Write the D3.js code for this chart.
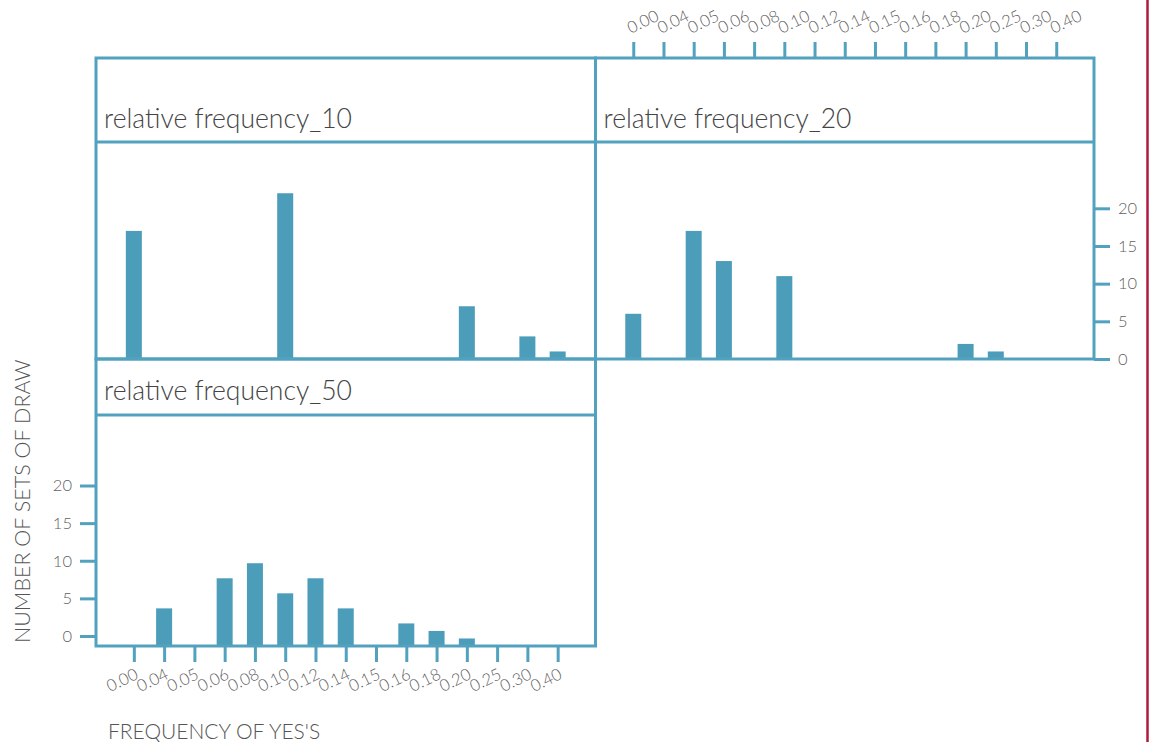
<!DOCTYPE html>
<html>
<head>
<meta charset="utf-8">
<script src="https://cdn.jsdelivr.net/npm/d3@7"></script>
<style>
  html, body { margin: 0; padding: 0; background: #ffffff; }
  svg { display: block; font-family: Lato, "Open Sans", sans-serif; }
</style>
</head>
<body>
<svg id="chart" width="1151" height="742"></svg>
<script>
// Shared category axis: observed frequency of "yes" answers
const categories = ["0.00","0.04","0.05","0.06","0.08","0.10","0.12","0.14","0.15","0.16","0.18","0.20","0.25","0.30","0.40"];
const yTicks = [0, 5, 10, 15, 20];

// Sample size 10
const freq10Cats = ["0.00","0.10","0.20","0.30","0.40"];
const freq10Counts = [17, 22, 7, 3, 1];

// Sample size 20
const freq20Cats = ["0.00","0.05","0.06","0.10","0.20","0.25"];
const freq20Counts = [6, 17, 13, 11, 2, 1];

// Sample size 50
const freq50Cats = ["0.04","0.06","0.08","0.10","0.12","0.14","0.16","0.18","0.20"];
const freq50Counts = [5, 9, 11, 7, 9, 5, 3, 2, 1];

const panelTitles = ["relative frequency_10", "relative frequency_20", "relative frequency_50"];
const xTitle = "FREQUENCY OF YES'S";
const yTitle = "NUMBER OF SETS OF DRAW";

const BLUE = "#4b9dba";
const BORDER = "#52a2bf";
const TEXT = "#444";
const TICKTEXT = "#5f5f5f";

const svg = d3.select("#chart");

// Facet grid geometry
const L = 96, M = 595.5, R = 1094;
const T = 58, H1 = 142, B1 = 359, H2 = 415, B2 = 646;

const x1 = d3.scalePoint().domain(categories).range([L, M]).padding(1.25);
const x2 = d3.scalePoint().domain(categories).range([M, R]).padding(1.25);
const y1 = d3.scaleLinear().domain([0, 28.8]).range([B1, H1]);
const y3 = d3.scaleLinear().domain([0, 30.7]).range([B2, H2]);
const barW = 16;

function drawBars(g, cats, counts, x, y) {
  const rows = cats.map((c, i) => ({ c, n: counts[i] }));
  g.selectAll("rect").data(rows).enter().append("rect")
    .attr("x", d => x(d.c) - barW / 2)
    .attr("y", d => y(d.n))
    .attr("width", barW)
    .attr("height", d => y(0) - y(d.n))
    .attr("fill", BLUE);
}

const bars = svg.append("g");
drawBars(bars.append("g"), freq10Cats, freq10Counts, x1, y1);
drawBars(bars.append("g"), freq20Cats, freq20Counts, x2, y1);
drawBars(bars.append("g"), freq50Cats, freq50Counts, x1, y3);

// Panel frames and header rows
const frames = svg.append("g").attr("fill", "none").attr("stroke", BORDER).attr("stroke-width", 3);
frames.append("rect").attr("x", L).attr("y", T).attr("width", M - L).attr("height", B1 - T);
frames.append("rect").attr("x", M).attr("y", T).attr("width", R - M).attr("height", B1 - T);
frames.append("rect").attr("x", L).attr("y", B1).attr("width", M - L).attr("height", B2 - B1);
frames.append("line").attr("x1", L).attr("x2", R).attr("y1", H1).attr("y2", H1);
frames.append("line").attr("x1", L).attr("x2", M).attr("y1", H2).attr("y2", H2);

// Panel titles
const titleStyle = sel => sel.attr("font-size", 26.5).attr("font-weight", 300).attr("fill", TEXT);
svg.append("text").attr("x", L + 8).attr("y", 128).text(panelTitles[0]).call(titleStyle);
svg.append("text").attr("x", M + 8).attr("y", 128).text(panelTitles[1]).call(titleStyle);
svg.append("text").attr("x", L + 8).attr("y", 400).text(panelTitles[2]).call(titleStyle);

function styleAxis(g) {
  g.select(".domain").remove();
  g.selectAll(".tick line").attr("stroke", BORDER).attr("stroke-width", 3);
  g.selectAll(".tick text").attr("fill", TICKTEXT).attr("font-size", 16.5).attr("font-weight", 300)
    .attr("font-family", "Lato, sans-serif");
}

// Top category axis over the right column
const topAxis = svg.append("g").attr("transform", `translate(0,${T - 1})`)
  .call(d3.axisTop(x2).tickSize(15).tickPadding(0));
styleAxis(topAxis);
topAxis.selectAll(".tick text")
  .attr("text-anchor", "start")
  .attr("transform", "translate(-3,-23) rotate(-26)")
  .attr("x", 0).attr("y", 0).attr("dy", 0);

// Bottom category axis under the lower panel
const bottomAxis = svg.append("g").attr("transform", `translate(0,${B2 + 1})`)
  .call(d3.axisBottom(x1).tickSize(15).tickPadding(0));
styleAxis(bottomAxis);
bottomAxis.selectAll(".tick text")
  .attr("text-anchor", "end")
  .attr("transform", "translate(5,31) rotate(-26)")
  .attr("x", 0).attr("y", 0).attr("dy", 0);

// Count axes
const rightAxis = svg.append("g").attr("transform", `translate(${R},0)`)
  .call(d3.axisRight(y1).tickValues(yTicks).tickSize(16).tickPadding(8));
styleAxis(rightAxis);

const leftAxis = svg.append("g").attr("transform", `translate(${L},-10)`)
  .call(d3.axisLeft(y3).tickValues(yTicks).tickSize(16).tickPadding(8));
styleAxis(leftAxis);

// Axis titles
svg.append("text")
  .attr("x", 108).attr("y", 739)
  .attr("font-size", 21).attr("font-weight", 300).attr("fill", "#555")
  .text(xTitle);
svg.append("text")
  .attr("transform", "translate(30,643) rotate(-90)")
  .attr("font-size", 21.5).attr("font-weight", 300).attr("fill", "#555")
  .text(yTitle);

// Page edge rule
svg.append("line")
  .attr("x1", 1147.5).attr("x2", 1147.5).attr("y1", 0).attr("y2", 742)
  .attr("stroke", "#b01a40").attr("stroke-width", 2.5);
</script>
</body>
</html>
